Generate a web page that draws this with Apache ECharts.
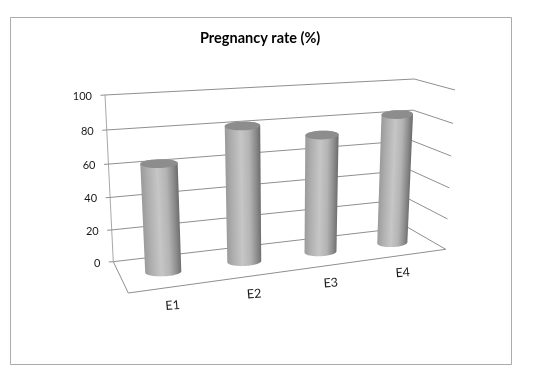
<!DOCTYPE html>
<html><head><meta charset="utf-8">
<style>html,body{margin:0;padding:0;background:#fff}#c{width:534px;height:372px}</style>
<script src="https://cdn.jsdelivr.net/npm/echarts@6/dist/echarts.min.js"></script>
</head><body><div id="c"></div>
<script>
const categories = ['E1', 'E2', 'E3', 'E4'];
const rates = [65, 83, 74, 83];
const valueTicks = [0, 20, 40, 60, 80, 100];
const chartTitle = 'Pregnancy rate (%)';

// Oblique view of the plot box: screen positions of its corners.
// key = x(l/r) y(b/t) z(f/b)
const box = {
  lbf:[128.3,293], rbf:[445.7,249.3], lbb:[113.3,261.7], rbb:[407.7,227.3],
  ltf:[118.5,114], rtf:[455,90],      ltb:[105,95],      rtb:[414.3,79]
};
const kx = 0.128, ky = 0.062;
const warpX = t => t*(1+kx)/(1+kx*t);
const warpY = t => t/(1+ky*(1-t));
const mix = (a,b,t) => [a[0]+(b[0]-a[0])*t, a[1]+(b[1]-a[1])*t];
function project(X, Y, Z) {           // X,Y in 0..1 from the axes, Z 0=front 1=back
  const x = warpX(X), y = warpY(Y);
  const b = mix(mix(box.lbf,box.rbf,x), mix(box.lbb,box.rbb,x), Z);
  const t = mix(mix(box.ltf,box.rtf,x), mix(box.ltb,box.rtb,x), Z);
  return mix(b,t,y);
}
function norm(api, params, cat, val) { // library scales -> 0..1 fractions of the grid
  const p = api.coord([cat, val]), cs = params.coordSys;
  return [(p[0]-cs.x)/cs.width, (cs.y+cs.height-p[1])/cs.height];
}
const lineCol = '#8f8f8f';
const seg = (a,b,c,w) => ({type:'line',shape:{x1:a[0],y1:a[1],x2:b[0],y2:b[1]},style:{stroke:c||lineCol,lineWidth:w||1,fill:null}});

function renderGridLine(params, api) {
  const v = api.value(0), Y = norm(api, params, 0, v)[1];
  const bl = project(0,Y,1), br = project(1,Y,1), fr = project(1,Y,0);
  const children = [
    seg([bl[0]-4.5,bl[1]+0.3], bl), seg(bl, br), seg(br, fr),
    {type:'text',style:{text:String(v),x:bl[0]-13,y:bl[1]+1.5,align:'right',verticalAlign:'middle',
      font:'11px Lato',fill:'#1a1a1a'}}
  ];
  if (params.dataIndex === 0) {
    const fl = project(0,Y,0);
    children.push(seg(fl, fr), seg(fl, bl), seg(bl, project(0,1,1), '#a8a8a8'));
  }
  return {type:'group',children};
}

const halfW = 0.054, halfH = 4.4, tilt = 0.3, N = 36;
function ringPts(X, Y, from, to) {
  const c = project(X,Y,0.5), r = project(X+halfW,Y,0.5), l = project(X-halfW,Y,0.5);
  const u = [(r[0]-l[0])/2,(r[1]-l[1])/2*tilt], pts = [];
  for (let i=0;i<=N;i++){
    const t = from+(to-from)*i/N;
    pts.push([c[0]+u[0]*Math.cos(t), c[1]+u[1]*Math.cos(t)+halfH*Math.sin(t)]);
  }
  return pts;
}
function renderCylinder(params, api) {
  const [X, Y] = norm(api, params, api.value(0), api.value(1));
  const Y0 = norm(api, params, api.value(0), 0)[1];
  const bottom = ringPts(X,Y0,0,Math.PI);         // front half of the base
  const top = ringPts(X,Y,Math.PI,2*Math.PI);     // back half of the cap
  const cap = ringPts(X,Y,0,2*Math.PI);
  const cB = project(X,Y0,0.5), cT = project(X,Y,0.5);
  const ax = [cT[0]-cB[0],cT[1]-cB[1]], L = Math.hypot(ax[0],ax[1]);
  const perp = [-ax[1]/L, ax[0]/L];               // sideways, across the shaft
  const w = Math.hypot(bottom[0][0]-bottom[N][0], bottom[0][1]-bottom[N][1])/2 + 0.5;
  const sgn = perp[0] > 0 ? 1 : -1;
  const fill = {type:'linear',global:true,
    x:cB[0]-perp[0]*w*sgn, y:cB[1]-perp[1]*w*sgn, x2:cB[0]+perp[0]*w*sgn, y2:cB[1]+perp[1]*w*sgn,
    colorStops:[{offset:0,color:'#9a9a9a'},{offset:0.18,color:'#aeaeae'},{offset:0.45,color:'#c6c6c6'},
      {offset:0.68,color:'#b4b4b4'},{offset:0.88,color:'#8a8a8a'},{offset:1,color:'#6c6c6c'}]};
  return {type:'group',children:[
    {type:'polygon',shape:{points:bottom.concat(top)},style:{fill}},
    {type:'polygon',shape:{points:cap},style:{fill:'#8d8d8d'}}
  ]};
}
function renderCatLabel(params, api) {
  const i = api.value(0), X = norm(api, params, i, 0)[0];
  const p = project(X,0,0);
  return {type:'text',rotation:5*Math.PI/180,x:p[0]+1.5-10*X,y:p[1]+18.5,
    style:{text:categories[i],x:0,y:0,align:'center',verticalAlign:'middle',font:'12.5px Lato',fill:'#1a1a1a'}};
}

const chart = echarts.init(document.getElementById('c'), null, {renderer:'canvas'});
chart.setOption({
  animation:false,
  backgroundColor:'#ffffff',
  title:{text:chartTitle,left:195,top:26,
    textStyle:{fontFamily:'Lato',fontWeight:'bold',fontSize:14.5,color:'#000'}},
  graphic:[{type:'rect',z:-1,shape:{x:10.5,y:17.5,width:501,height:347},style:{fill:'#fff',stroke:'#ababab',lineWidth:1}}],
  grid:{left:0,right:0,top:0,bottom:0},
  xAxis:{type:'category',data:categories,show:false},
  yAxis:{type:'value',min:0,max:100,interval:20,show:false},
  series:[
    {type:'custom',silent:true,z:1,clip:false,data:valueTicks.map(v=>[v]),encode:{y:0},renderItem:renderGridLine},
    {type:'custom',silent:true,z:2,clip:false,data:rates.map((v,i)=>[i,v]),encode:{x:0,y:1},renderItem:renderCylinder},
    {type:'custom',silent:true,z:3,clip:false,data:categories.map((c,i)=>[i]),encode:{x:0},renderItem:renderCatLabel}
  ]
});
</script></body></html>
